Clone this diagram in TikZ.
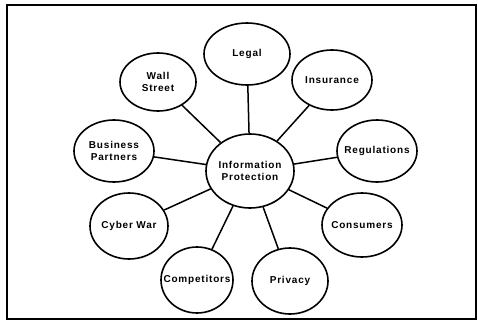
\documentclass[tikz,border=0pt]{standalone}
\usepackage{fontspec}
\newfontfamily\bubblefont[LetterSpace=8]{Liberation Sans}
\usetikzlibrary{shapes}
\usetikzlibrary{shapes.geometric}

\begin{document}
\begin{tikzpicture}[x=1pt,y=-1pt,
  bubble/.style={draw,ellipse,line width=1.6pt,inner sep=0pt},
  spoke/.style={line width=1.5pt},
  every label/.style={align=center,font=\bubblefont\bfseries\fontsize{10}{12}\selectfont}]
\useasboundingbox (0,0) rectangle (478,321);
\draw[line width=1.2pt] (7,5) rectangle (476,319);
\node[bubble,minimum width=88pt,minimum height=74pt,label={center:Information\\Protection}] (ip) at (250,171) {};
\node[bubble,minimum width=86pt,minimum height=62pt,label={center:Legal}] (legal) at (247,54) {};
\node[bubble,minimum width=76pt,minimum height=58pt,label={center:Wall\\Street}] (wall) at (158,82) {};
\node[bubble,minimum width=80pt,minimum height=60pt,label={center:Insurance}] (ins) at (332,80) {};
\node[bubble,minimum width=80pt,minimum height=62pt,label={center:Business\\Partners}] (bp) at (114,151) {};
\node[bubble,minimum width=80pt,minimum height=62pt,label={center:Regulations}] (reg) at (377,151) {};
\node[bubble,minimum width=78pt,minimum height=66pt,label={center:Cyber War}] (cyber) at (129,226) {};
\node[bubble,minimum width=80pt,minimum height=64pt,label={center:Consumers}] (cons) at (362,225) {};
\node[bubble,minimum width=72pt,minimum height=66pt,label={center:Competitors}] (comp) at (197,280) {};
\node[bubble,minimum width=76pt,minimum height=66pt,label={center:Privacy}] (priv) at (290,281) {};
\draw[spoke] (ip) -- (legal);
\draw[spoke] (ip) -- (wall);
\draw[spoke] (ip) -- (ins);
\draw[spoke] (ip) -- (bp);
\draw[spoke] (ip) -- (reg);
\draw[spoke] (ip) -- (cyber);
\draw[spoke] (ip) -- (cons);
\draw[spoke] (ip) -- (comp);
\draw[spoke] (ip) -- (priv);
\end{tikzpicture}
\end{document}
